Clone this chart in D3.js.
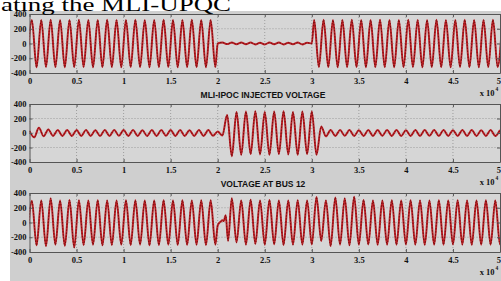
<!DOCTYPE html>
<html>
<head>
<meta charset="utf-8">
<script src="https://cdn.jsdelivr.net/npm/d3@7"></script>
<style>
  html, body { margin: 0; padding: 0; background: #fff; }
  svg { display: block; }
</style>
</head>
<body>
<svg id="chart" width="501" height="281"></svg>
<script>
// half a cycle of the 10-per-unit waveforms
const halfCycle = 0.05;

const xTicks = [0, 0.5, 1, 1.5, 2, 2.5, 3, 3.5, 4, 4.5, 5];
const yTicks = [-400, -200, 0, 200, 400];

// top panel: source voltage, sag to zero between 2 and 3
const sourceA = [-320, 318, -322, 320, -318, 322, -320, 318, -322, 320, -320,
  322, -318, 320, -322, 318, -320, 322, -320, 318, -322,
  320, -318, 322, -320, 318, -322, 320, -320, 322, -318,
  320, -322, 318, -320, 322, -320, 318, -322, 320, -320];           // from -0.025
const sourceMid = [0, 14, -8, 12, -10, 12, -10, 12, -12, 10, -12,
  12, -10, 12, -12, 10, -10, 12, -12, 10, 0];                        // from 2.0
const sourceB = [320, -318, 322, -320, 318, -322, 320, -320, 322, -318,
  320, -322, 318, -320, 322, -320, 318, -322, 320, -320,
  322, -318, 320, -322, 318, -320, 322, -320, 318, -322,
  320, -318, 322, -320, 318, -322, 320, -320, 322, -318, 320];       // from 3.025

// middle panel: MLI-IPQC injected voltage
const injA = [30, -60, 72, -45, 50, -40, 42, -40, 40, -42, 40,
  -40, 42, -40, 38, -42, 40, -40, 42, -38, 40,
  -40, 42, -40, 38, -42, 40, -40, 42, -38, 40,
  -42, 40, -40, 38, -40, 42, -40, 40, -38, 20];                      // from 0
const injSag = [-35, 250, -320, 290, -300, 295, -290, 300, -295, 290,
  -300, 295, -290, 300, -295, 290, -300, 295, -290, 295, -300, 90, -45]; // from 2.05
const injB = [40, -40, 42, -38, 40, -42, 38, -40, 42, -40,
  40, -38, 42, -40, 40, -42, 38, -40, 42, -40,
  40, -38, 40, -42, 40, -40, 38, -40, 42, -40,
  40, -42, 38, -40, 42, -40, 40];                                    // from 3.2

// bottom panel: voltage at bus 12
const busA = [-300, 295, -310, 300, -320, 330, -300, 298, -315, 305, -340,
  300, -305, 298, -300, 302, -310, 300, -305, 298, -300,
  302, -305, 300, -300, 298, -310, 300, -305, 302, -300,
  298, -305, 300, -302, 298, -300, 302, -305, 300, -300];           // from -0.025
const busDipT = [2.0, 2.03, 2.05, 2.065, 2.085, 2.11];
const busDipV = [-40, 10, 30, 20, 100, -250];
const busB = [330, -270, 300, -300, 310, -290, 300, -300, 305, -295,
  300, -305, 298, -300, 302, -300, 300, -298, 345, -250,
  300, -320, 340, -300, 330, -310, 350, -300, 305, -298,
  300, -302, 298, -300, 302, -300, 300, -298, 302, -300,
  300, -302, 298, -300, 302, -300, 300, -298, 302, -300,
  300, -302, 298, -300, 302, -300, 300, -298, 300];                  // from 2.15

const titles = ["MLI-IPOC INJECTED VOLTAGE", "VOLTAGE AT BUS 12"];

function segment(start, values) {
  return values.map((v, i) => ({ t: start + i * halfCycle, v: v }));
}

const panels = [
  { top: 14, bottom: 73,
    data: [].concat(segment(-0.025, sourceA), segment(2.0, sourceMid), segment(3.025, sourceB)) },
  { top: 104, bottom: 162,
    data: [].concat(segment(0, injA), segment(2.05, injSag), segment(3.2, injB)) },
  { top: 193, bottom: 252,
    data: [].concat(segment(-0.025, busA),
      busDipT.map((t, i) => ({ t: t, v: busDipV[i] })),
      segment(2.15, busB)) }
];

const svg = d3.select('#chart');

svg.append('rect')
  .attr('x', 10).attr('y', 11)
  .attr('width', 491).attr('height', 270)
  .attr('fill', '#cfcfcf');

const x = d3.scaleLinear().domain([0, 5]).range([29.5, 500]);

panels.forEach((p, k) => {
  const y = d3.scaleLinear().domain([-400, 400]).range([p.bottom, p.top]);
  const g = svg.append('g');

  g.append('rect')
    .attr('x', x(0)).attr('y', p.top)
    .attr('width', x(5) - x(0)).attr('height', p.bottom - p.top)
    .attr('fill', '#d6d6d6');

  // dotted grid
  g.append('g').selectAll('line')
    .data(xTicks.slice(1, -1))
    .join('line')
    .attr('x1', d => x(d)).attr('x2', d => x(d))
    .attr('y1', p.top).attr('y2', p.bottom)
    .attr('stroke', '#777').attr('stroke-width', 0.6)
    .attr('stroke-dasharray', '1,2');
  g.append('g').selectAll('line')
    .data(yTicks.slice(1, -1))
    .join('line')
    .attr('x1', x(0)).attr('x2', x(5))
    .attr('y1', d => y(d)).attr('y2', d => y(d))
    .attr('stroke', '#777').attr('stroke-width', 0.6)
    .attr('stroke-dasharray', '1,2');

  const clipId = 'clip' + k;
  g.append('clipPath').attr('id', clipId)
    .append('rect')
    .attr('x', x(0)).attr('y', p.top - 2)
    .attr('width', x(5) - x(0)).attr('height', p.bottom - p.top + 4);

  const line = d3.line()
    .x(d => x(d.t))
    .y(d => y(d.v))
    .curve(d3.curveMonotoneX);

  g.append('path')
    .datum(p.data)
    .attr('clip-path', 'url(#' + clipId + ')')
    .attr('d', line)
    .attr('fill', 'none')
    .attr('stroke', '#be2228')
    .attr('stroke-width', 2);
  g.append('path')
    .datum(p.data)
    .attr('clip-path', 'url(#' + clipId + ')')
    .attr('d', line)
    .attr('fill', 'none')
    .attr('stroke', '#6e0b0b')
    .attr('stroke-width', 0.9)
    .attr('stroke-dasharray', '1.5,1.5');

  // axes
  const axStyle = sel => {
    sel.select('.domain').attr('stroke', '#555');
    sel.selectAll('.tick line').attr('stroke', '#555');
    sel.selectAll('text')
      .attr('font-family', '"Liberation Serif", serif')
      .attr('font-weight', 'bold')
      .attr('font-size', 8.5)
      .attr('fill', '#111');
  };

  const bottomAxis = g.append('g')
    .attr('transform', 'translate(0,' + p.bottom + ')')
    .call(d3.axisBottom(x).tickValues(xTicks).tickFormat(d3.format('~g'))
      .tickSize(-3).tickSizeOuter(0).tickPadding(5))
    .call(axStyle);
  // last label sits against the right edge of the window
  bottomAxis.selectAll('.tick text')
    .filter(d => d === 5)
    .attr('text-anchor', 'end')
    .attr('dx', 0.5);
  g.append('g')
    .attr('transform', 'translate(0,' + p.top + ')')
    .call(d3.axisTop(x).tickValues(xTicks).tickFormat('')
      .tickSize(-3).tickSizeOuter(0))
    .call(axStyle);
  g.append('g')
    .attr('transform', 'translate(' + x(0) + ',0)')
    .call(d3.axisLeft(y).tickValues(yTicks).tickFormat(d => String(d))
      .tickSize(-3).tickSizeOuter(0).tickPadding(3))
    .call(axStyle);
  g.append('g')
    .attr('transform', 'translate(' + x(5) + ',0)')
    .call(d3.axisRight(y).tickValues(yTicks).tickFormat('')
      .tickSize(-3).tickSizeOuter(0))
    .call(axStyle);

  // exponent label
  g.append('text')
    .attr('x', 494.5).attr('y', p.bottom + 23)
    .attr('text-anchor', 'end')
    .attr('font-family', '"Liberation Serif", serif')
    .attr('font-weight', 'bold')
    .attr('font-size', 8.5)
    .attr('fill', '#111')
    .text('x 10');
  g.append('text')
    .attr('x', 495.5).attr('y', p.bottom + 18)
    .attr('font-family', '"Liberation Serif", serif')
    .attr('font-weight', 'bold')
    .attr('font-size', 5.5)
    .attr('fill', '#111')
    .text('4');

  if (k < titles.length) {
    svg.append('text')
      .attr('x', 263).attr('y', p.bottom + 25)
      .attr('text-anchor', 'middle')
      .attr('font-family', '"Liberation Sans", Arial, sans-serif')
      .attr('font-weight', 'bold')
      .attr('font-size', 8.5)
      .attr('fill', '#111')
      .text(titles[k]);
  }
});

// caption fragment from the surrounding document
svg.append('text')
  .attr('x', 1).attr('y', 10.5)
  .attr('font-family', '"Liberation Serif", "Times New Roman", serif')
  .attr('font-size', 19)
  .attr('textLength', 230)
  .attr('lengthAdjust', 'spacingAndGlyphs')
  .attr('fill', '#000')
  .text('ating the MLI-UPQC');
</script>
</body>
</html>
